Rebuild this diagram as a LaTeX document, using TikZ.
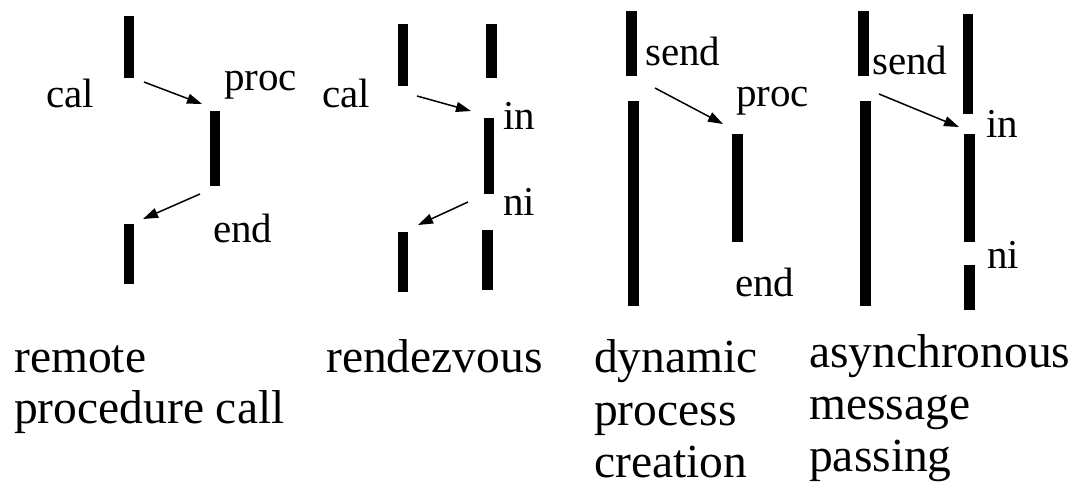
\documentclass[tikz,border=0pt]{standalone}
\usepackage{fontspec}
\setmainfont{Liberation Serif}
\usetikzlibrary{arrows.meta}
\tikzset{
  bar/.style={rectangle, fill=black, draw=none, inner sep=0pt, minimum width=10.5pt},
  lbl/.style={inner sep=0pt, anchor=base west, font=\fontsize{41}{48}\selectfont},
  captext/.style={inner sep=0pt, anchor=base west, font=\fontsize{47.5}{52}\selectfont},
  msg/.style={line width=1.5pt, -{Triangle[length=15pt,width=10pt]}}
}
\begin{document}
\begin{tikzpicture}[x=1pt,y=-1pt]
\useasboundingbox (0,0) rectangle (1075,488);
% panel 1: remote procedure call
\node[bar, minimum height=62pt] (a1) at (129,47) {};
\node[bar, minimum height=75pt] (b1) at (215,148.5) {};
\node[bar, minimum height=60pt] (c1) at (129,254) {};
\coordinate (p1s) at (144,82); \coordinate (p1e) at (202,104);
\coordinate (q1s) at (200,194); \coordinate (q1e) at (143,219);
\draw[msg] (p1s) -- (p1e);
\draw[msg] (q1s) -- (q1e);
\node[lbl] (l1a) at (46,107) {cal};
\node[lbl] (l1b) at (224,90) {proc};
\node[lbl] (l1c) at (213,242) {end};
% panel 2: rendezvous
\node[bar, minimum height=62pt] (a2) at (403,55) {};
\node[bar, minimum height=54pt] (b2) at (491.5,51) {};
\node[bar, minimum height=76pt] (c2) at (489,156) {};
\node[bar, minimum height=60pt] (d2) at (403,262) {};
\node[bar, minimum height=60pt] (e2) at (487.5,260) {};
\coordinate (p2s) at (417,96); \coordinate (p2e) at (471,111);
\coordinate (q2s) at (468,202); \coordinate (q2e) at (418,225);
\draw[msg] (p2s) -- (p2e);
\draw[msg] (q2s) -- (q2e);
\node[lbl] (l2a) at (322,107) {cal};
\node[lbl] (l2b) at (503,129) {in};
\node[lbl] (l2c) at (503,215) {ni};
% panel 3: dynamic process creation
\node[bar, minimum height=65pt] (a3) at (631.5,43.5) {};
\node[bar, minimum height=205pt] (b3) at (633.5,203.5) {};
\node[bar, minimum height=108pt] (c3) at (737.5,188) {};
\coordinate (p3s) at (655,88); \coordinate (p3e) at (723,124);
\draw[msg] (p3s) -- (p3e);
\node[lbl] (l3a) at (645,65) {send};
\node[lbl] (l3b) at (736,106) {proc};
\node[lbl] (l3c) at (735,296) {end};
% panel 4: asynchronous message passing
\node[bar, minimum height=65pt] (a4) at (863.5,43.5) {};
\node[bar, minimum height=205pt] (b4) at (865.5,203.5) {};
\node[bar, minimum height=100pt] (c4) at (968,64) {};
\node[bar, minimum height=108pt] (d4) at (969.5,188) {};
\node[bar, minimum height=45pt] (e4) at (969.5,287.5) {};
\coordinate (p4s) at (879,94); \coordinate (p4e) at (959,127);
\draw[msg] (p4s) -- (p4e);
\node[lbl] (l4a) at (872,74) {send};
\node[lbl] (l4b) at (986,137) {in};
\node[lbl] (l4c) at (987,268) {ni};
% captions
\node[captext] (t1a) at (14,372) {remote};
\node[captext] (t1b) at (14,423) {procedure call};
\node[captext] (t2a) at (326,372) {rendezvous};
\node[captext] (t3a) at (594,372) {dynamic};
\node[captext] (t3b) at (594,425) {process};
\node[captext] (t3c) at (594,477) {creation};
\node[captext] (t4a) at (809,367) {asynchronous};
\node[captext] (t4b) at (809,419) {message};
\node[captext] (t4c) at (809,471) {passing};
\end{tikzpicture}
\end{document}
